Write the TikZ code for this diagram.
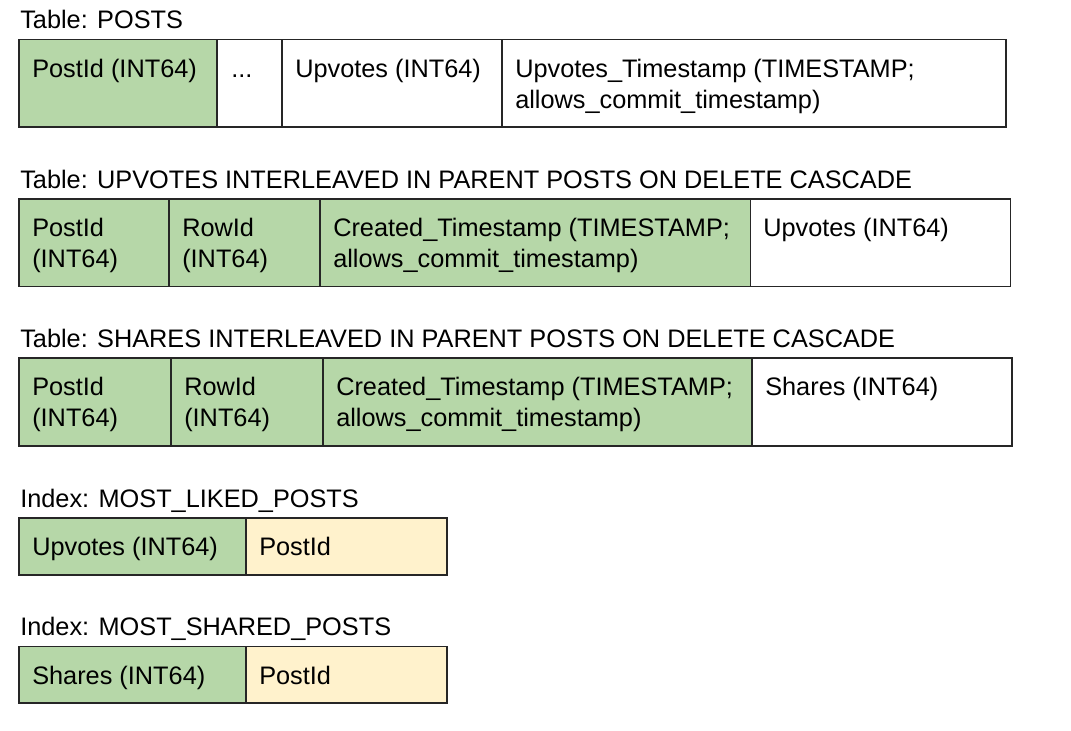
\documentclass[tikz,border=0pt]{standalone}
\usepackage{fontspec}
\setmainfont{Liberation Sans}
\definecolor{keygreen}{HTML}{B6D7A8}
\definecolor{idxyellow}{HTML}{FFF2CC}
\begin{document}
\begin{tikzpicture}[x=0.025cm,y=-0.025cm,
  every node/.style={font=\fontsize{18pt}{22pt}\selectfont, inner sep=0pt},
  txt/.style={anchor=base west, align=left},
  keycell/.style={draw=black!85, line width=1.1pt, fill=keygreen},
  cell/.style={draw=black!85, line width=1.1pt, fill=white},
  idxcell/.style={draw=black!85, line width=1.1pt, fill=idxyellow}]
\useasboundingbox (0,0) rectangle (1071,730);
% Table POSTS
\node[txt] (postsT) at (20,28.5) {Table: POSTS};
\draw[keycell] (19,39.5) rectangle (217,127);
\draw[cell] (217,39.5) rectangle (282,127);
\draw[cell] (282,39.5) rectangle (502,127);
\draw[cell] (502,39.5) rectangle (1006,127);
\node[txt] (postsId) at (32,77) {PostId (INT64)};
\node[txt] (postsDots) at (231,77) {...};
\node[txt] (postsUp) at (295,77) {Upvotes (INT64)};
% two-line texts sit on the baseline of their last line
\node[txt] (postsTs) at (515,108) {Upvotes\_Timestamp (TIMESTAMP;\\allows\_commit\_timestamp)};
% Table UPVOTES
\node[txt] (upT) at (20,188) {Table: UPVOTES INTERLEAVED IN PARENT POSTS ON DELETE CASCADE};
\draw[keycell] (19,199) rectangle (169,286.5);
\draw[keycell] (169,199) rectangle (320,286.5);
\draw[keycell] (320,199) rectangle (750.5,286.5);
\draw[cell] (750.5,199) rectangle (1010.5,286.5);
\node[txt] (upPost) at (32,267) {PostId\\(INT64)};
\node[txt] (upRow) at (182,267) {RowId\\(INT64)};
\node[txt] (upTs) at (333,267) {Created\_Timestamp (TIMESTAMP;\\allows\_commit\_timestamp)};
\node[txt] (upVal) at (763,236) {Upvotes (INT64)};
% Table SHARES
\node[txt] (shT) at (20,347) {Table: SHARES INTERLEAVED IN PARENT POSTS ON DELETE CASCADE};
\draw[keycell] (19,358) rectangle (171,446);
\draw[keycell] (171,358) rectangle (323,446);
\draw[keycell] (323,358) rectangle (752,446);
\draw[cell] (752,358) rectangle (1012,446);
\node[txt] (shPost) at (32,426) {PostId\\(INT64)};
\node[txt] (shRow) at (184,426) {RowId\\(INT64)};
\node[txt] (shTs) at (336,426) {Created\_Timestamp (TIMESTAMP;\\allows\_commit\_timestamp)};
\node[txt] (shVal) at (765,395) {Shares (INT64)};
% Index MOST_LIKED_POSTS
\node[txt] (likedT) at (20,507) {Index: MOST\_LIKED\_POSTS};
\draw[keycell] (19,518) rectangle (246,575);
\draw[idxcell] (246,518) rectangle (447,575);
\node[txt] (likedUp) at (32,555) {Upvotes (INT64)};
\node[txt] (likedPost) at (259,555) {PostId};
% Index MOST_SHARED_POSTS
\node[txt] (sharedT) at (20,635.5) {Index: MOST\_SHARED\_POSTS};
\draw[keycell] (19,646.5) rectangle (246,703);
\draw[idxcell] (246,646.5) rectangle (447,703);
\node[txt] (sharedSh) at (32,684) {Shares (INT64)};
\node[txt] (sharedPost) at (259,684) {PostId};
\end{tikzpicture}
\end{document}
